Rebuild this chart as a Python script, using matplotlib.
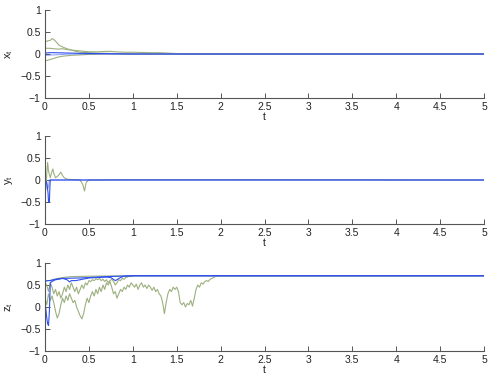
import numpy as np
import matplotlib
matplotlib.use('Agg')
import matplotlib.pyplot as plt

plt.rcParams['font.family'] = ['Liberation Sans', 'DejaVu Sans']

green = '#9cb07e'
blue = '#2e4ff0'
T_END = 5.0

# ---- x_t panel ----
xg1_t = [0, 0.03, 0.06, 0.08, 0.1, 0.13, 0.16, 0.2, 0.25, 0.3, 0.35, 0.4, 0.5, 0.6, 0.8, 1.0, 1.2, 5]
xg1_v = [0.27, 0.3, 0.31, 0.35, 0.33, 0.27, 0.2, 0.16, 0.12, 0.09, 0.06, 0.04, 0.03, 0.02, 0.01, 0.0, 0.0, 0.0]
xg2_t = [0, 0.05, 0.1, 0.15, 0.2, 0.25, 0.3, 0.4, 0.5, 0.6, 0.7, 0.75, 0.8, 0.9, 1.0, 1.1, 1.2, 1.3, 1.4, 1.5, 1.6, 5]
xg2_v = [0.13, 0.13, 0.12, 0.11, 0.12, 0.1, 0.09, 0.07, 0.05, 0.05, 0.06, 0.06, 0.05, 0.04, 0.04, 0.035, 0.03, 0.03, 0.02, 0.01, 0.0, 0.0]
xg3_t = [0, 0.05, 0.1, 0.15, 0.2, 0.3, 0.4, 0.5, 0.7, 1.0, 5]
xg3_v = [-0.16, -0.13, -0.1, -0.07, -0.05, -0.03, -0.02, -0.01, 0.0, 0.0, 0.0]
xb1_t = [0, 0.05, 0.1, 0.2, 0.3, 0.4, 0.6, 0.8, 1.0, 5]
xb1_v = [0.02, 0.03, 0.03, 0.025, 0.02, 0.015, 0.01, 0.005, 0.0, 0.0]
xb2_t = [0, 0.1, 0.2, 0.3, 0.5, 5]
xb2_v = [-0.03, -0.02, -0.01, 0.0, 0.0, 0.0]

# ---- y_t panel ----
yg1_t = [0, 0.01, 0.02, 0.03, 0.04, 0.06, 0.08, 0.09, 0.1, 0.12, 0.14, 0.16, 0.18, 0.2, 0.22, 0.25,
         0.3, 0.4, 0.43, 0.45, 0.47, 0.5, 1.0, 1.9, 5]
yg1_v = [0, -0.22, 0.15, 0.4, 0.2, 0.05, 0.2, 0.25, 0.15, 0.05, 0.08, 0.12, 0.18, 0.1, 0.05, 0.02,
         0.01, 0.0, -0.1, -0.25, -0.05, 0.0, 0.01, 0.01, 0.0]
yb1_t = [0, 0.02, 0.035, 0.04, 0.05, 0.055, 0.06, 0.1, 5]
yb1_v = [0, -0.05, -0.3, -0.5, -0.5, -0.2, 0.0, 0.0, 0.0]
yb2_t = [0, 0.02, 0.03, 0.04, 0.05, 5]
yb2_v = [0, -0.1, -0.2, -0.15, 0.0, 0.0]

# ---- z_t panel ----
zg1_t = [0, 0.05, 0.1, 0.2, 0.3, 0.5, 0.7, 1.0, 5]
zg1_v = [0.6, 0.6, 0.63, 0.67, 0.69, 0.7, 0.705, 0.71, 0.71]

# sampled every 0.02 from t = 0
zg2_v = [0.55, 0.5, 0.35, 0.55, 0.45, 0.3, 0.4, 0.25, 0.35, 0.2,
         0.3, 0.45, 0.35, 0.5, 0.4, 0.55, 0.45, 0.35, 0.45, 0.3,
         0.4, 0.5, 0.42, 0.55, 0.5, 0.6, 0.58, 0.62, 0.6, 0.64,
         0.62, 0.65, 0.6, 0.63, 0.58, 0.62, 0.55, 0.6, 0.63, 0.58,
         0.5, 0.55, 0.62, 0.6, 0.65, 0.63, 0.67, 0.68, 0.7, 0.69,
         0.7, 0.71]
zg3_v = [0.2, 0.05, 0.3, 0.15, 0.25, 0.1, -0.1, -0.25, -0.15, 0.05,
         0.2, 0.1, 0.25, 0.15, 0.3, 0.2, 0.1, 0.15, 0.0, -0.1,
         -0.2, -0.27, -0.15, 0.05, 0.2, 0.1, 0.25, 0.35, 0.25, 0.4,
         0.3, 0.45, 0.35, 0.5, 0.4, 0.55, 0.5, 0.58, 0.45, 0.3,
         0.35, 0.2, 0.3, 0.4, 0.35, 0.45, 0.4, 0.5, 0.45, 0.55,
         0.5, 0.45, 0.52, 0.4, 0.5, 0.55, 0.45, 0.5, 0.42, 0.5,
         0.45, 0.38, 0.45, 0.35, 0.4, 0.3, 0.25, 0.1, -0.15, 0.1,
         0.3, 0.4, 0.35, 0.45, 0.4, 0.45, 0.35, 0.1, 0.05, 0.1,
         0.0, 0.08, 0.05, 0.15, 0.02, 0.2, 0.4, 0.5, 0.45, 0.55,
         0.52, 0.58, 0.6, 0.58, 0.63, 0.65, 0.67, 0.69, 0.7, 0.71,
         0.71]
zb1_t = [0, 0.01, 0.02, 0.03, 0.04, 0.05, 0.06, 0.08, 0.1, 0.12, 0.15, 0.2, 0.25, 0.28, 0.3, 0.35,
         0.4, 0.45, 0.5, 0.6, 0.7, 0.75, 0.8, 0.82, 0.85, 0.9, 1.0, 5]
zb1_v = [0.1, -0.05, -0.25, -0.38, -0.42, -0.1, 0.55, 0.58, 0.6, 0.62, 0.63, 0.65, 0.62, 0.57, 0.6, 0.6,
         0.62, 0.64, 0.66, 0.67, 0.68, 0.67, 0.6, 0.62, 0.66, 0.7, 0.71, 0.71]
zb2_t = [0, 0.03, 0.06, 0.1, 0.15, 0.2, 0.4, 0.7, 1.0, 5]
zb2_v = [0.58, 0.6, 0.6, 0.62, 0.64, 0.65, 0.66, 0.69, 0.71, 0.71]


def sampled(vals, step=0.02):
    t = list(np.arange(len(vals)) * step)
    return t + [T_END], list(vals) + [vals[-1]]


fig = plt.figure(figsize=(4.91, 3.80), dpi=100)
left, width, height = 45 / 491, 439 / 491, 88 / 380
bottoms = [(380 - 98) / 380, (380 - 224) / 380, (380 - 351) / 380]
axes = [fig.add_axes([left, b, width, height]) for b in bottoms]

lw = 0.8
ax = axes[0]
for tt, vv in [(xg1_t, xg1_v), (xg2_t, xg2_v), (xg3_t, xg3_v)]:
    ax.plot(tt, vv, color=green, lw=lw)
ax.plot(xb2_t, xb2_v, color=blue, lw=lw, alpha=0.5)
ax.plot(xb1_t, xb1_v, color=blue, lw=lw)

ax = axes[1]
ax.plot(yg1_t, yg1_v, color=green, lw=lw)
ax.plot(yb2_t, yb2_v, color=blue, lw=lw, alpha=0.5)
ax.plot(yb1_t, yb1_v, color=blue, lw=lw)

ax = axes[2]
ax.plot(zg1_t, zg1_v, color=green, lw=lw)
ax.plot(*sampled(zg2_v), color=green, lw=lw)
ax.plot(*sampled(zg3_v), color=green, lw=lw)
ax.plot(zb2_t, zb2_v, color=blue, lw=lw)
ax.plot(zb1_t, zb1_v, color=blue, lw=lw)

ylabels = ['$\\mathregular{x_t}$', '$\\mathregular{y_t}$', '$\\mathregular{z_t}$']
xticks = np.arange(0, 5.01, 0.5)
for ax, lab in zip(axes, ylabels):
    ax.set_xlim(0, 5)
    ax.set_ylim(-1, 1)
    ax.set_xticks(xticks)
    ax.set_xticklabels(['%g' % v for v in xticks])
    ax.set_yticks([-1, -0.5, 0, 0.5, 1])
    ax.set_yticklabels(['\u22121', '\u22120.5', '0', '0.5', '1'])
    ax.spines['top'].set_visible(False)
    ax.spines['right'].set_visible(False)
    for s in ('left', 'bottom'):
        ax.spines[s].set_color('#555555')
        ax.spines[s].set_linewidth(0.8)
    ax.tick_params(direction='in', length=3.5, width=0.7, color='#555555',
                   labelsize=7.5, labelcolor='#222222', pad=3)
    ax.set_xlabel('t', fontsize=7.5, labelpad=0, color='#222222')
    ax.set_ylabel(lab, fontsize=8, labelpad=4, color='#222222')

fig.savefig('out.png', dpi=100)
